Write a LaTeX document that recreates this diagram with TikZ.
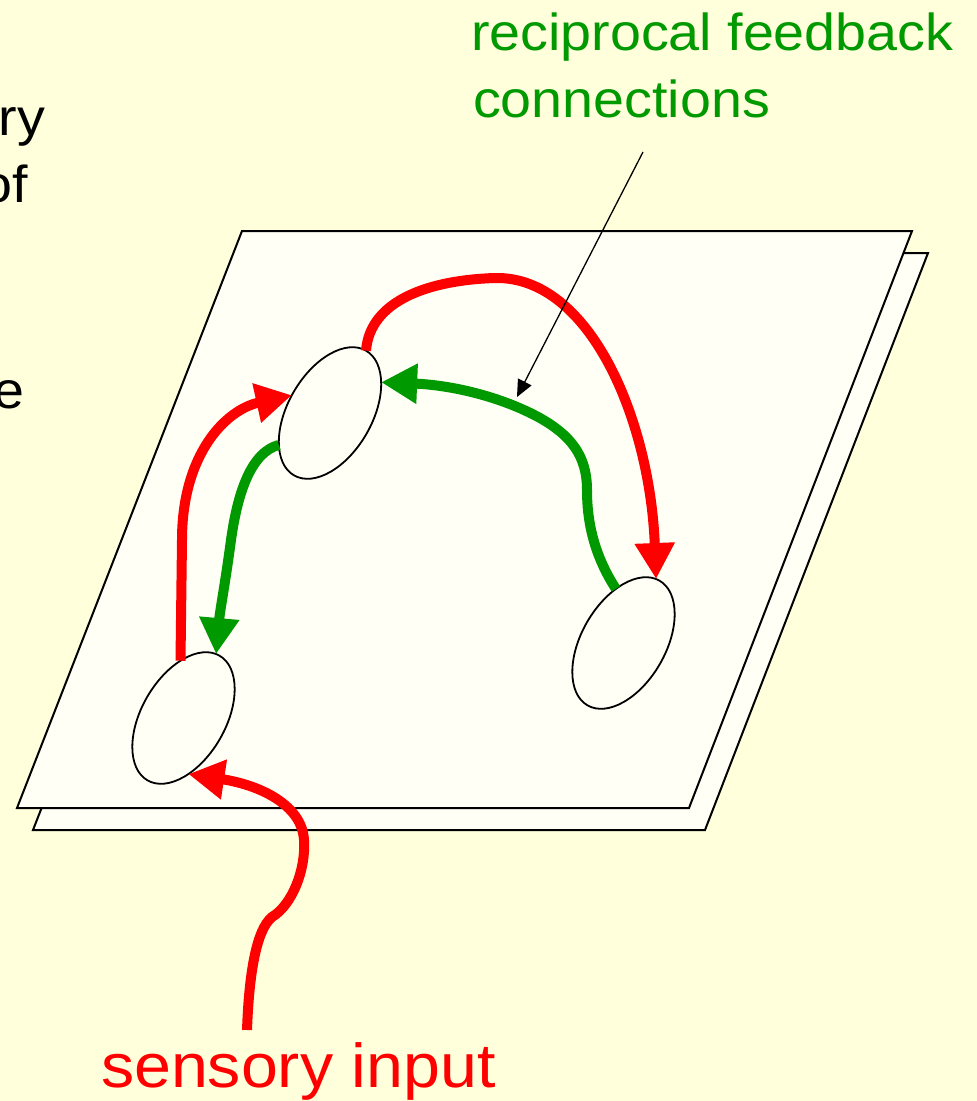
\documentclass[tikz,border=0pt]{standalone}
\usepackage{fontspec}
\setmainfont{Liberation Sans}[FakeStretch=1.07]
\usetikzlibrary{arrows.meta,shapes.geometric}

\definecolor{slidebg}{HTML}{FFFFDC}
\definecolor{sheet}{HTML}{FFFFF6}
\definecolor{fbgreen}{HTML}{009900}
\definecolor{inred}{HTML}{FF0000}

\tikzset{
  plane/.style={draw=black, line width=2pt, fill=sheet, line join=miter},
  cell/.style={ellipse, draw=black, line width=1.8pt, fill=sheet,
    minimum width=144pt, minimum height=84pt, inner sep=0pt, outer sep=0pt, rotate=60},
  redarrow/.style={draw=inred, line width=10pt,
    -{Triangle[length=36pt,width=38pt]}},
  greenarrow/.style={draw=fbgreen, line width=10pt,
    -{Triangle[length=36pt,width=38pt]}},
  pointer/.style={draw=black, line width=1.3pt,
    -{Triangle[length=17pt,width=15pt]}},
  label/.style={inner sep=0pt, outer sep=0pt}
}

\begin{document}
\begin{tikzpicture}[x=1pt, y=-1pt]
  % canvas
  \fill[slidebg] (0,0) rectangle (977,1101);
  \useasboundingbox (0,0) rectangle (977,1101);

  % margin text running in from the left
  \node[label, anchor=base east] (t1) at (45,135) {\fontsize{52}{62}\selectfont ry};
  \node[label, anchor=base east] (t2) at (28,202) {\fontsize{52}{62}\selectfont of};
  \node[label, anchor=base east] (t3) at (24,408) {\fontsize{52}{62}\selectfont e};

  % two stacked cortical sheets
  \draw[plane] (258,253) -- (928,253) -- (705,830) -- (33,830) -- cycle;
  \draw[plane] (242,231) -- (912,231) -- (689,808) -- (17,808) -- cycle;

  % cortical areas
  \node[cell] (e1) at (330,413) {};
  \node[cell] (e2) at (183.5,718) {};
  \node[cell] (e3) at (623.5,643) {};

  % feedforward (red) and feedback (green) pathways
  \draw[redarrow] (e2.33) -- (182,540)
     .. controls (182,455) and (225,410) .. (e1.95);
  \draw[greenarrow] (e1.152)
     .. controls (252,452) and (238,490) .. (231,540)
     .. controls (225,585) and (220,610) .. (e2.3);
  \draw[redarrow] (e1.0)
     .. controls (370,300) and (430,280) .. (495,278)
     .. controls (590,276) and (650,420) .. (e3.3);
  \draw[greenarrow] (e3.38)
     .. controls (594,555) and (587,522) .. (587,490)
     .. controls (587,455) and (570,435) .. (540,418)
     .. controls (500,396) and (450,385) .. (e1.331);

  % sensory input entering the first area
  \coordinate (sin) at (247,1030);
  \draw[redarrow] (sin)
     .. controls (249,975) and (256,930) .. (272,917)
     .. controls (292,905) and (306,870) .. (304,840)
     .. controls (302,805) and (260,785) .. (e2.215);

  % labels
  \node[label, anchor=base west, text=fbgreen] (fb1) at (471,50)
     {\fontsize{52}{62}\selectfont reciprocal feedback};
  \node[label, anchor=base west, text=fbgreen] (fb2) at (473,117)
     {\fontsize{52}{62}\selectfont connections};
  \node[label, anchor=base west, text=inred] (si) at (101,1087)
     {\fontsize{62}{72}\selectfont sensory input};

  % leader from the label to the feedback pathway
  \coordinate (ptr) at (643,152);
  \coordinate (ptrtip) at (517,397);
  \draw[pointer] (ptr) -- (ptrtip);
\end{tikzpicture}
\end{document}
